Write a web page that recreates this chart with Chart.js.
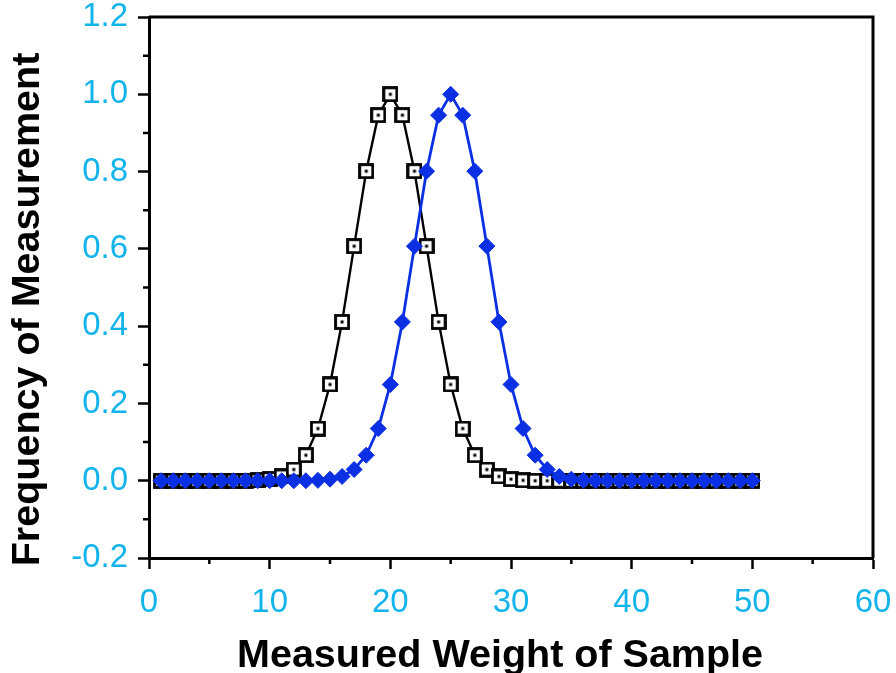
<!DOCTYPE html>
<html>
<head>
<meta charset="utf-8">
<script src="https://cdn.jsdelivr.net/npm/chart.js@4.4.0/dist/chart.umd.min.js"></script>
<style>
html,body{margin:0;padding:0;background:#fff;}
#wrap{width:896px;height:673px;}
</style>
</head>
<body>
<div id="wrap"><canvas id="c" width="896" height="673"></canvas></div>
<script>
const xValues = [1,2,3,4,5,6,7,8,9,10,11,12,13,14,15,16,17,18,19,20,21,22,23,24,25,26,27,28,29,30,31,32,33,34,35,36,37,38,39,40,41,42,43,44,45,46,47,48,49,50];
const blackSeries = [0,0,0,0,0,0,0,0,0.001,0.004,0.011,0.029,0.066,0.135,0.249,0.411,0.607,0.801,0.946,1.0,0.946,0.801,0.607,0.411,0.249,0.135,0.066,0.029,0.011,0.004,0.001,0,0,0,0,0,0,0,0,0,0,0,0,0,0,0,0,0,0,0];
const blueSeries  = [0,0,0,0,0,0,0,0,0,0,0,0,0,0.001,0.004,0.011,0.029,0.066,0.135,0.249,0.411,0.607,0.801,0.946,1.0,0.946,0.801,0.607,0.411,0.249,0.135,0.066,0.029,0.011,0.004,0.001,0,0,0,0,0,0,0,0,0,0,0,0,0,0];
const xTickLabels = ['0','10','20','30','40','50','60'];
const yTickLabels = ['-0.2','0.0','0.2','0.4','0.6','0.8','1.0','1.2'];

const CYAN = '#12b4eb';
const BLUE = '#0b30e3';

// square marker with center dot
const sq = document.createElement('canvas');
sq.width = 16; sq.height = 16;
(function(){
  const g = sq.getContext('2d');
  g.fillStyle = '#fff'; g.fillRect(1,1,14,14);
  g.strokeStyle = '#000'; g.lineWidth = 2.8;
  g.strokeRect(1.5,1.5,13,13);
  g.fillStyle = '#000'; g.fillRect(6.5,6.5,3,3);
})();

const minorTicks = {
  id: 'minorTicks',
  afterDraw(chart) {
    const ctx = chart.ctx, a = chart.chartArea;
    const xs = chart.scales.x, ys = chart.scales.y;
    ctx.save();
    ctx.strokeStyle = '#000';
    ctx.lineWidth = 2.5;
    ctx.beginPath();
    for (let v = 5; v < 60; v += 10) {
      const px = xs.getPixelForValue(v);
      ctx.moveTo(px, a.bottom); ctx.lineTo(px, a.bottom + 6);
    }
    for (let i = 0; i < 7; i++) {
      const v = -0.1 + i * 0.2;
      const py = ys.getPixelForValue(v);
      ctx.moveTo(a.left, py); ctx.lineTo(a.left - 6, py);
    }
    ctx.stroke();
    // frame top and right
    ctx.lineWidth = 3;
    ctx.beginPath();
    ctx.moveTo(a.left, a.top); ctx.lineTo(a.right, a.top); ctx.lineTo(a.right, a.bottom);
    ctx.stroke();
    ctx.restore();
  }
};

new Chart(document.getElementById('c'), {
  type: 'line',
  data: {
    datasets: [
      {
        label: 'Blue',
        data: xValues.map((x,i)=>({x:x, y:blueSeries[i]})),
        borderColor: BLUE,
        backgroundColor: BLUE,
        borderWidth: 2.8,
        pointStyle: 'rectRot',
        pointRadius: 8,
        pointBorderWidth: 1,
        pointBorderColor: BLUE,
        pointBackgroundColor: BLUE,
        tension: 0,
        order: 1
      },
      {
        label: 'Black',
        data: xValues.map((x,i)=>({x:x, y:blackSeries[i]})),
        borderColor: '#000',
        backgroundColor: '#fff',
        borderWidth: 2.4,
        pointStyle: sq,
        pointRadius: 8,
        tension: 0,
        order: 2
      }
    ]
  },
  options: {
    responsive: false,
    animation: false,
    devicePixelRatio: 1,
    layout: { padding: { left: 0, right: 23, top: 17, bottom: 0 } },
    plugins: { legend: { display: false }, tooltip: { enabled: false } },
    scales: {
      x: {
        type: 'linear', min: 0, max: 60,
        afterFit(s){ s.height = 115; s.paddingLeft = 0; s.paddingRight = 0; },
        ticks: {
          stepSize: 10, color: CYAN, padding: 14,
          font: { family: 'Liberation Sans, Arial, sans-serif', size: 33 },
          maxRotation: 0,
          callback: (v) => { const i = Math.round(v/10); return xTickLabels[i] !== undefined && Math.abs(v - i*10) < 1e-6 ? xTickLabels[i] : ''; }
        },
        grid: { drawOnChartArea: false, drawTicks: true, tickLength: 11, tickColor: '#000', tickWidth: 2.5 },
        border: { color: '#000', width: 3 },
        title: {
          display: true, text: 'Measured Weight of Sample  ', color: '#000',
          font: { family: 'Liberation Sans, Arial, sans-serif', size: 39.5, weight: 'bold' },
          padding: { top: 0, bottom: -7 }
        }
      },
      y: {
        type: 'linear', min: -0.2, max: 1.2,
        afterFit(s){ s.width = 149; s.paddingTop = 0; s.paddingBottom = 0; },
        ticks: {
          stepSize: 0.2, color: CYAN, padding: 10,
          font: { family: 'Liberation Sans, Arial, sans-serif', size: 33 },
          callback: (v) => { const i = Math.round((v + 0.2)/0.2); return yTickLabels[i] !== undefined ? yTickLabels[i] : ''; }
        },
        grid: { drawOnChartArea: false, drawTicks: true, tickLength: 11, tickColor: '#000', tickWidth: 2.5 },
        border: { color: '#000', width: 3 },
        title: {
          display: true, text: 'Frequency of Measurement    ', color: '#000',
          font: { family: 'Liberation Sans, Arial, sans-serif', size: 39.5, weight: 'bold' },
          padding: { top: 4, bottom: 0 }
        }
      }
    }
  },
  plugins: [minorTicks]
});
</script>
</body>
</html>
